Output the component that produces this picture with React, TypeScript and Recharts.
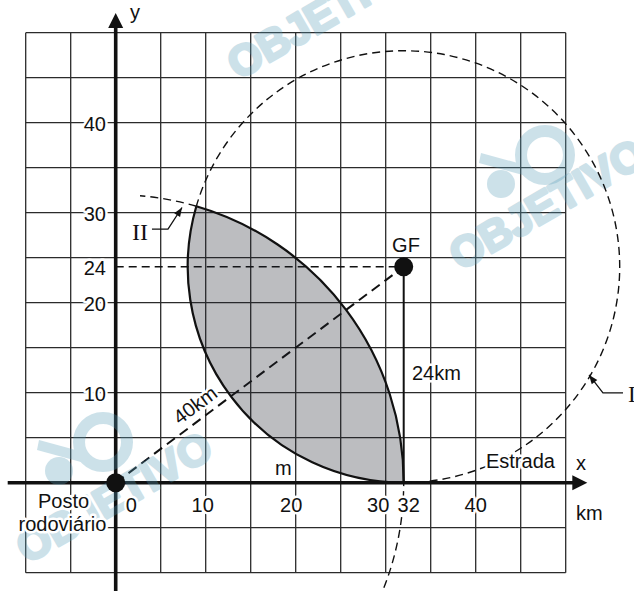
import React from 'react';
import { ComposedChart, XAxis, YAxis, Scatter, ReferenceLine, ReferenceDot } from 'recharts';

// ---------- layout ----------
const W = 634;
const H = 591;
const UNIT = 9; // px per km
const ORIGIN_PX = 115.7;
const ORIGIN_PY = 482.7;
const X_DOMAIN: [number, number] = [-ORIGIN_PX / UNIT, (W - ORIGIN_PX) / UNIT];
const Y_DOMAIN: [number, number] = [-(H - ORIGIN_PY) / UNIT, ORIGIN_PY / UNIT];

// ---------- data ----------
const gridValues = [-10, -5, 0, 5, 10, 15, 20, 25, 30, 35, 40, 45, 50];
const xTickValues = [0, 10, 20, 30, 32, 40];
const yTickValues = [10, 20, 24, 30, 40];
const points = [
  { name: 'Posto rodoviário', x: 0, y: 0 },
  { name: 'GF', x: 32, y: 24 },
];
const circles = [
  { name: 'I', x: 32, y: 24, r: 24 },
  { name: 'II', x: 0, y: 0, r: 32 },
];
const circleIIUpperEndX = 2.7;
const circleIILowerEndY = -13;
const xAxisRange = [-12, 52.4];
const yAxisRange = [-12.1, 52.2];
const leaderII = [
  { x: 4.03, y: 28.17 },
  { x: 5.81, y: 28.17 },
  { x: 7.37, y: 30.58 },
];
const leaderI = [
  { x: 56.37, y: 9.97 },
  { x: 54.14, y: 9.97 },
  { x: 52.59, y: 11.97 },
];
const watermarkTexts = [
  { x: 13.63, y: 44.72 },
  { x: 38.29, y: 23.5 },
  { x: -9.82, y: -9.06 },
];
const watermarkLogos = [
  { x: 47.7, y: 36.41 },
  { x: -1.41, y: 4.52 },
];

// ---------- styles ----------
const FONT = '"Liberation Sans", Arial, Helvetica, sans-serif';
const SERIF = '"Liberation Serif", "Times New Roman", serif';
const INK = '#111';
const GRID = '#2b2b2b';
const WM = 'rgb(88,158,185)';
const WM_OPACITY = 0.3;
const SHADE = 'rgb(32,35,48)';
const SHADE_OPACITY = 0.3;
const xTickNudge: Record<number, number> = { 0: 15.5, 10: -3, 20: -4.5, 30: -7.5, 32: 5, 40: 0 };

// ---------- geometry helpers ----------
type C = { x: number; y: number; r: number };
function intersect(a: C, b: C) {
  const dx = b.x - a.x;
  const dy = b.y - a.y;
  const d = Math.hypot(dx, dy);
  const l = (a.r * a.r - b.r * b.r + d * d) / (2 * d);
  const h = Math.sqrt(Math.max(0, a.r * a.r - l * l));
  const mx = a.x + (l * dx) / d;
  const my = a.y + (l * dy) / d;
  const p = { x: mx - (h * dy) / d, y: my + (h * dx) / d };
  const q = { x: mx + (h * dy) / d, y: my - (h * dx) / d };
  return p.y > q.y ? [p, q] : [q, p];
}
const [P_UP, P_LOW] = intersect(circles[0], circles[1]);
const angleOn = (c: C, p: { x: number; y: number }) => (Math.atan2(p.y - c.y, p.x - c.x) * 180) / Math.PI;
const onCircle = (cxp: number, cyp: number, R: number, deg: number) => [
  cxp + R * Math.cos((deg * Math.PI) / 180),
  cyp - R * Math.sin((deg * Math.PI) / 180),
];
function arcD(cxp: number, cyp: number, R: number, a0: number, a1: number) {
  while (a1 <= a0) a1 += 360;
  const [x0, y0] = onCircle(cxp, cyp, R, a0);
  const [x1, y1] = onCircle(cxp, cyp, R, a1);
  const large = a1 - a0 > 180 ? 1 : 0;
  return `M${x0},${y0} A${R},${R} 0 ${large} 0 ${x1},${y1}`;
}

function LensShape(props: any) {
  const { cx, cy, payload } = props;
  const cI = circles[0];
  const cII = circles[1];
  const toPx = (p: { x: number; y: number }) => [cx + (p.x - payload.x) * UNIT, cy - (p.y - payload.y) * UNIT];
  const [ux, uy] = toPx(P_UP);
  const [lx, ly] = toPx(P_LOW);
  const R2 = cII.r * UNIT;
  const R1 = cI.r * UNIT;
  const d = `M${ux},${uy} A${R2},${R2} 0 0 1 ${lx},${ly} A${R1},${R1} 0 0 1 ${ux},${uy} Z`;
  return <path d={d} fill={SHADE} fillOpacity={SHADE_OPACITY} stroke="none" />;
}

function CircleShape(props: any) {
  const { cx, cy, payload } = props;
  const c = payload as C & { name: string };
  const R = c.r * UNIT;
  const aUp = angleOn(c, P_UP);
  const aLow = angleOn(c, P_LOW);
  const dashed = { fill: 'none', stroke: INK, strokeWidth: 1.4, strokeDasharray: '8 5' };
  const solid = { fill: 'none', stroke: INK, strokeWidth: 2.2 };
  if (c.name === 'I') {
    return (
      <g>
        <path d={arcD(cx, cy, R, aLow, aUp)} {...dashed} />
        <path d={arcD(cx, cy, R, aUp, aLow)} {...solid} />
      </g>
    );
  }
  const upperEnd = (Math.acos(circleIIUpperEndX / c.r) * 180) / Math.PI;
  const lowerEnd = (Math.asin(circleIILowerEndY / c.r) * 180) / Math.PI;
  return (
    <g>
      <path d={arcD(cx, cy, R, aLow, aUp)} {...solid} />
      <path d={arcD(cx, cy, R, aUp, upperEnd)} {...dashed} />
      <path d={arcD(cx, cy, R, lowerEnd, aLow)} {...dashed} />
    </g>
  );
}

function DotShape(props: any) {
  return <circle cx={props.cx} cy={props.cy} r={9.5} fill={INK} />;
}
const NoShape = () => <g />;

function WatermarkTextShape(p: any) {
  return (
    <g opacity={WM_OPACITY}>
      <text
        x={p.cx}
        y={p.cy}
        transform={`rotate(-30 ${p.cx} ${p.cy})`}
        fontFamily={FONT}
        fontWeight={700}
        fontSize={43}
        fill={WM}
        stroke={WM}
        strokeWidth={3}
        strokeLinejoin="round"
      >
        OBJETIVO
      </text>
    </g>
  );
}
function WatermarkLogoShape(p: any) {
  const { cx, cy } = p;
  return (
    <g opacity={WM_OPACITY}>
      <path
        d={`M${cx - 64},${cy - 2} L${cx - 20},${cy + 10} L${cx - 22},${cy + 20} L${cx - 66},${cy + 8} Z`}
        fill={WM}
      />
      <circle cx={cx} cy={cy} r={24} fill="none" stroke={WM} strokeWidth={12} />
      <circle cx={cx - 44} cy={cy + 29} r={14} fill={WM} />
    </g>
  );
}

type TOpts = {
  dx?: number;
  dy?: number;
  anchor?: 'start' | 'middle' | 'end';
  size?: number;
  family?: string;
  halo?: boolean;
  rotate?: number;
  baseline?: string;
};
function textMark(key: string, x: number, y: number, text: string, o: TOpts = {}) {
  return (
    <ReferenceDot
      key={key}
      x={x}
      y={y}
      r={1}
      ifOverflow="visible"
      shape={(p: any) => {
        const tx = p.cx + (o.dx || 0);
        const ty = p.cy + (o.dy || 0);
        return (
          <text
            x={tx}
            y={ty}
            textAnchor={o.anchor || 'start'}
            dominantBaseline={o.baseline as any}
            fontFamily={o.family || FONT}
            fontSize={o.size || 20}
            fill={INK}
            stroke={o.halo ? '#fff' : 'none'}
            strokeWidth={o.halo ? 5 : 0}
            strokeLinejoin="round"
            paintOrder="stroke"
            transform={o.rotate ? `rotate(${o.rotate} ${tx} ${ty})` : undefined}
          >
            {text}
          </text>
        );
      }}
    />
  );
}

function arrowHead(key: string, from: { x: number; y: number }, tip: { x: number; y: number }, len: number, half: number) {
  const vx = (tip.x - from.x) * UNIT;
  const vy = -(tip.y - from.y) * UNIT;
  const n = Math.hypot(vx, vy);
  const ux = vx / n;
  const uy = vy / n;
  return (
    <ReferenceDot
      key={key}
      x={tip.x}
      y={tip.y}
      r={1}
      ifOverflow="visible"
      shape={(p: any) => {
        const bx = p.cx - ux * len;
        const by = p.cy - uy * len;
        const pts = `${p.cx},${p.cy} ${bx - uy * half},${by + ux * half} ${bx + uy * half},${by - ux * half}`;
        return <polygon points={pts} fill={INK} />;
      }}
    />
  );
}

export default function App() {
  const gridX0 = gridValues[0];
  const gridX1 = gridValues[gridValues.length - 1];
  const gf = points[1];
  const origin = points[0];
  return (
    <div style={{ position: 'absolute', left: 0, top: 0, width: W, height: H, background: '#fff' }}>
      <ComposedChart width={W} height={H} margin={{ top: 0, right: 0, bottom: 0, left: 0 }}>
        <XAxis type="number" dataKey="x" domain={X_DOMAIN} hide allowDataOverflow />
        <YAxis type="number" dataKey="y" domain={Y_DOMAIN} hide allowDataOverflow />

        {/* grid */}
        {gridValues.map((v) => (
          <ReferenceLine
            key={`gv${v}`}
            segment={[{ x: v, y: gridX0 }, { x: v, y: gridX1 }]}
            stroke={GRID}
            strokeWidth={1.3}
            ifOverflow="visible"
          />
        ))}
        {gridValues.map((v) => (
          <ReferenceLine
            key={`gh${v}`}
            segment={[{ x: gridX0, y: v }, { x: gridX1, y: v }]}
            stroke={GRID}
            strokeWidth={1.3}
            ifOverflow="visible"
          />
        ))}

        {/* construction lines */}
        <ReferenceLine
          segment={[{ x: origin.x, y: gf.y }, { x: gf.x, y: gf.y }]}
          stroke={INK}
          strokeWidth={1.5}
          strokeDasharray="8 5"
          ifOverflow="visible"
        />
        <ReferenceLine
          segment={[{ x: origin.x, y: origin.y }, { x: gf.x, y: gf.y }]}
          stroke={INK}
          strokeWidth={2}
          strokeDasharray="10 6"
          ifOverflow="visible"
        />
        <ReferenceLine
          segment={[{ x: gf.x, y: 0 }, { x: gf.x, y: gf.y }]}
          stroke={INK}
          strokeWidth={2}
          ifOverflow="visible"
        />

        {/* axes */}
        <ReferenceLine
          segment={[{ x: xAxisRange[0], y: 0 }, { x: xAxisRange[1] - 1.2, y: 0 }]}
          stroke={INK}
          strokeWidth={3.6}
          ifOverflow="visible"
        />
        <ReferenceLine
          segment={[{ x: 0, y: yAxisRange[0] }, { x: 0, y: yAxisRange[1] - 1.2 }]}
          stroke={INK}
          strokeWidth={3.6}
          ifOverflow="visible"
        />

        {/* watermarks (translucent, below the figure marks) */}
        <Scatter data={watermarkTexts} shape={WatermarkTextShape} isAnimationActive={false} />
        <Scatter data={watermarkLogos} shape={WatermarkLogoShape} isAnimationActive={false} />

        {/* shaded lens (translucent so grid shows through) */}
        <Scatter data={[circles[0]]} shape={LensShape} isAnimationActive={false} />

        {/* circles */}
        <Scatter data={circles} shape={CircleShape} isAnimationActive={false} />

        {/* leaders */}
        <Scatter data={leaderII} shape={NoShape} line={{ stroke: INK, strokeWidth: 1.3 }} isAnimationActive={false} />
        <Scatter data={leaderI} shape={NoShape} line={{ stroke: INK, strokeWidth: 1.3 }} isAnimationActive={false} />

        {/* points */}
        <Scatter data={points} shape={DotShape} isAnimationActive={false} />

        {arrowHead('arrII', leaderII[1], leaderII[2], 9, 3.5)}
        {arrowHead('arrI', leaderI[1], leaderI[2], 9, 3.5)}
        {arrowHead('arrX', { x: 0, y: 0 }, { x: xAxisRange[1], y: 0 }, 15, 7.5)}
        {arrowHead('arrY', { x: 0, y: 0 }, { x: 0, y: yAxisRange[1] }, 15, 7.5)}

        {/* tick labels */}
        {yTickValues.map((v) => textMark(`yt${v}`, 0, v, String(v), { dx: -9.7, dy: 8, anchor: 'end', halo: true }))}
        {xTickValues.map((v) =>
          textMark(`xt${v}`, v, 0, String(v), { dx: xTickNudge[v] || 0, dy: 28.8, anchor: 'middle', halo: true })
        )}

        {/* text annotations */}
        {textMark('lab-y', 0, yAxisRange[1], 'y', { dx: 14.3, dy: 6 })}
        {textMark('lab-x', 51.14, 0, 'x', { dy: -12.7 })}
        {textMark('lab-km', 51.14, 0, 'km', { dy: 37.3 })}
        {textMark('lab-gf', gf.x, gf.y, 'GF', { dx: 2.3, dy: -14.7, anchor: 'middle' })}
        {textMark('lab-24', gf.x, gf.y / 2, '24km', { dx: 8.3, dy: 5.3, halo: true })}
        {textMark('lab-40', 9.78, 7.33, '40km', {
          dx: -8.7,
          dy: -11.7,
          anchor: 'middle',
          baseline: 'central',
          rotate: -36.87,
          halo: true,
        })}
        {textMark('lab-m', 18.64, 0, 'm', { dy: -7.7, anchor: 'middle' })}
        {textMark('lab-estrada', 41.14, 0, 'Estrada', { dy: -14.7, halo: true })}
        {textMark('lab-posto', origin.x, origin.y, 'Posto', { dx: -52.2, dy: 25.3, anchor: 'middle', halo: true })}
        {textMark('lab-rodo', origin.x, origin.y, 'rodoviário', { dx: -53.2, dy: 48.3, anchor: 'middle', halo: true })}
        {textMark('lab-II', leaderII[0].x, leaderII[0].y, 'II', { dx: -4, dy: 11, anchor: 'end', family: SERIF, size: 24 })}
        {textMark('lab-I', leaderI[0].x, leaderI[0].y, 'I', { dx: 5, dy: 9, family: SERIF, size: 23 })}
      </ComposedChart>
    </div>
  );
}
